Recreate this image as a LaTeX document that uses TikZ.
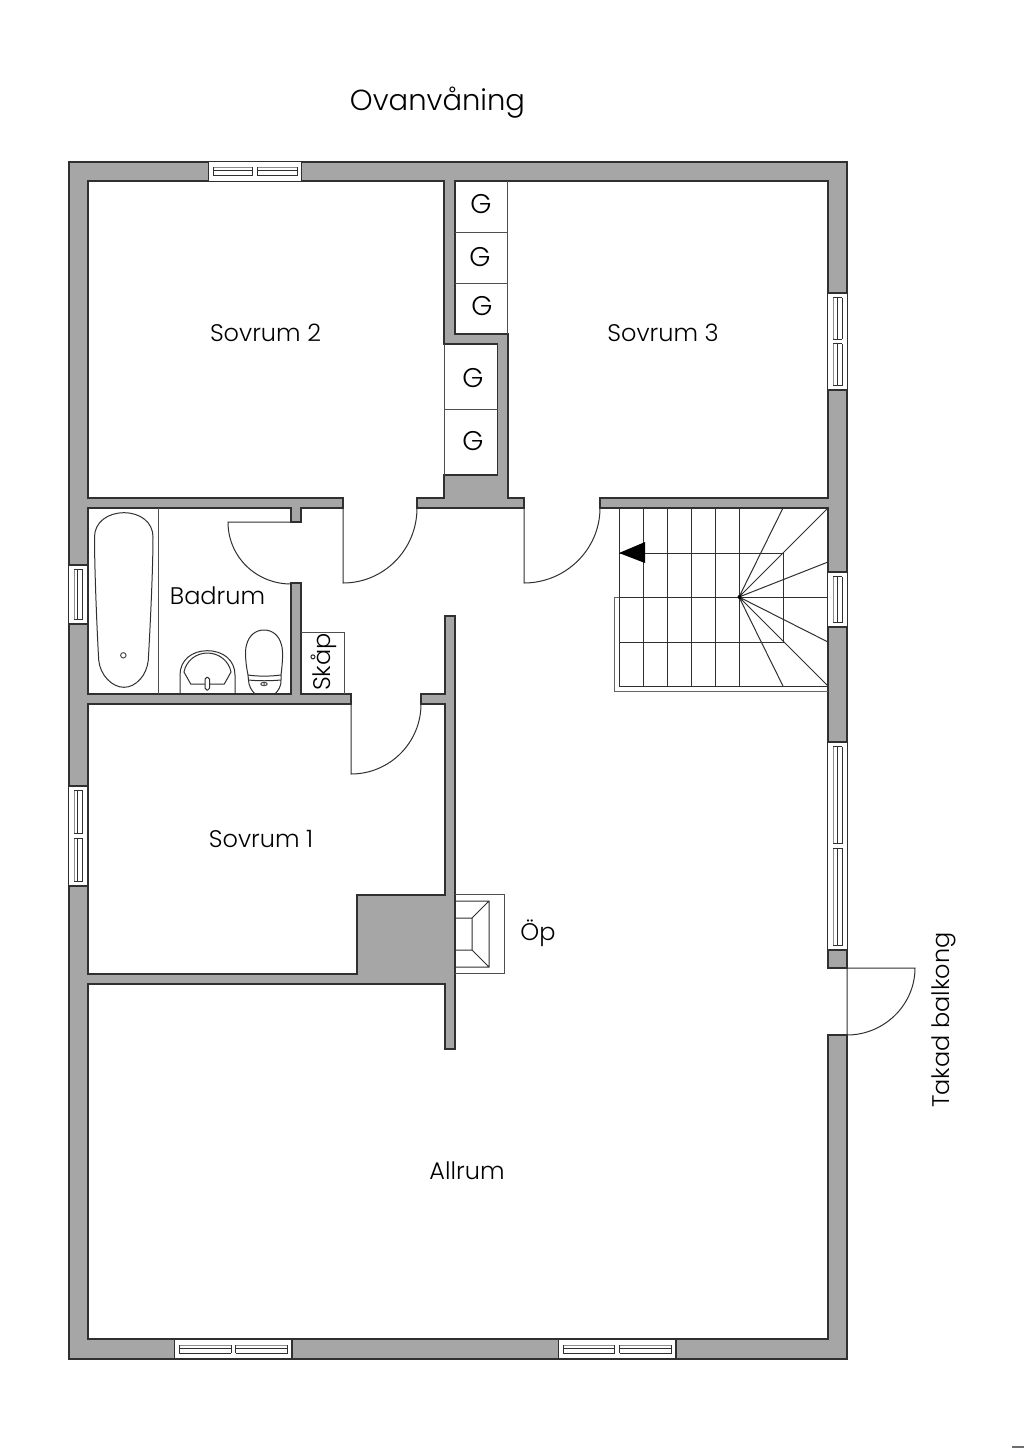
\documentclass[tikz,border=0pt]{standalone}
\usepackage{fontspec}
\setmainfont{Poppins}[UprightFont=* Light]
\definecolor{wallgray}{HTML}{A6A6A6}
\definecolor{ink}{HTML}{303030}
\tikzset{
 wall/.style={fill=wallgray,draw=ink,line width=1.1pt,line join=miter},
 thin line/.style={draw=ink,line width=1pt},
 fine/.style={draw=ink!85,line width=1pt},
 faint/.style={draw=ink!55,line width=.8pt},
 windowframe/.style={fill=white,draw=ink,line width=1.1pt},
 label/.style={inner sep=0pt,text=black,font=\fontsize{24}{28}\selectfont},
 glabel/.style={inner sep=0pt,text=black,font=\fontsize{27}{30}\selectfont},
}
\newcommand{\hwin}[3]{% x1,x2,ytop  (horizontal window, two panes)
 \draw[windowframe] (#1,#3) rectangle (#2,{#3+19.4});
 \draw[faint] ({#1+4.5},{#3+5.6}) -- ({(#1+#2)/2-2.3},{#3+5.6})
   ({(#1+#2)/2+2.3},{#3+5.6}) -- ({#2-4.5},{#3+5.6});
 \draw[thin line] ({#1+4.5},{#3+5.6}) -- ({#1+4.5},{#3+14})
   ({(#1+#2)/2-2.3},{#3+5.6}) -- ({(#1+#2)/2-2.3},{#3+14})
   ({(#1+#2)/2+2.3},{#3+5.6}) -- ({(#1+#2)/2+2.3},{#3+14})
   ({#2-4.5},{#3+5.6}) -- ({#2-4.5},{#3+14})
   ({#1+4.5},{#3+9}) -- ({(#1+#2)/2-2.3},{#3+9})
   ({#1+4.5},{#3+14}) -- ({(#1+#2)/2-2.3},{#3+14})
   ({(#1+#2)/2+2.3},{#3+9}) -- ({#2-4.5},{#3+9})
   ({(#1+#2)/2+2.3},{#3+14}) -- ({#2-4.5},{#3+14});
}
\newcommand{\vwin}[3]{% xleft,y1,y2 (vertical window, two panes)
 \draw[windowframe] (#1,#2) rectangle ({#1+19.4},#3);
 \draw[faint] ({#1+5.4},{#2+4.5}) -- ({#1+5.4},{(#2+#3)/2-2.3})
   ({#1+5.4},{(#2+#3)/2+2.3}) -- ({#1+5.4},{#3-4.5});
 \draw[thin line] ({#1+5.4},{#2+4.5}) -- ({#1+14.3},{#2+4.5})
   ({#1+5.4},{(#2+#3)/2-2.3}) -- ({#1+14.3},{(#2+#3)/2-2.3})
   ({#1+5.4},{(#2+#3)/2+2.3}) -- ({#1+14.3},{(#2+#3)/2+2.3})
   ({#1+5.4},{#3-4.5}) -- ({#1+14.3},{#3-4.5})
   ({#1+9.3},{#2+4.5}) -- ({#1+9.3},{(#2+#3)/2-2.3})
   ({#1+14.3},{#2+4.5}) -- ({#1+14.3},{(#2+#3)/2-2.3})
   ({#1+9.3},{(#2+#3)/2+2.3}) -- ({#1+9.3},{#3-4.5})
   ({#1+14.3},{(#2+#3)/2+2.3}) -- ({#1+14.3},{#3-4.5});
}
\newcommand{\vwinone}[3]{% xleft,y1,y2 (vertical window, one pane)
 \draw[windowframe] (#1,#2) rectangle ({#1+19.4},#3);
 \draw[faint] ({#1+5.4},{#2+4.5}) -- ({#1+5.4},{#3-4.5});
 \draw[thin line] ({#1+5.4},{#2+4.5}) -- ({#1+14.3},{#2+4.5})
   ({#1+5.4},{#3-4.5}) -- ({#1+14.3},{#3-4.5})
   ({#1+9.3},{#2+4.5}) -- ({#1+9.3},{#3-4.5})
   ({#1+14.3},{#2+4.5}) -- ({#1+14.3},{#3-4.5});
}
\begin{document}
\begin{tikzpicture}[x=1pt,y=-1pt]
\useasboundingbox[fill=white] (0,0) rectangle (1024,1448);
% walls: one outline, broken at the balcony door
\draw[wall] (69,162) -- (847,162) -- (847,968) -- (828,968) -- (828,508) -- (600,508) -- (600,498) -- (828,498) -- (828,181) -- (455,181) -- (455,334) -- (508,334) -- (508,498) -- (524,498) -- (524,508) -- (417,508) -- (417,498) -- (444,498) -- (444,475) -- (497.5,475) -- (497.5,344) -- (444,344) -- (444,181) -- (88,181) -- (88,498) -- (343,498) -- (343,508) -- (301,508) -- (301,522) -- (291,522) -- (291,508) -- (88,508) -- (88,694) -- (291,694) -- (291,583) -- (301,583) -- (301,694) -- (351,694) -- (351,704) -- (88,704) -- (88,974) -- (357,974) -- (357,895) -- (445,895) -- (445,704) -- (421,704) -- (421,694) -- (445,694) -- (445,616) -- (455,616) -- (455,1049) -- (445,1049) -- (445,984) -- (88,984) -- (88,1339) -- (828,1339) -- (828,1035) -- (847,1035) -- (847,1359) -- (69,1359) -- cycle;
% closets
\draw[fine] (455,232) -- (507.5,232) (455,283) -- (507.5,283) (507.5,181) -- (507.5,334)
  (444,344) -- (444,475) (444,409.5) -- (497.5,409.5);
% cupboard
\draw[fine] (301,632.7) -- (344.5,632.7) -- (344.5,694);
% windows
\hwin{208.5}{301.7}{161.8}
\hwin{174.7}{292}{1339.4}
\hwin{558.5}{676}{1339.4}
\vwin{827.8}{293}{390}
\vwin{827.8}{742}{950}
\vwin{68.5}{786}{886}
\vwinone{827.8}{572}{627}
\vwinone{68.5}{565}{624}
% doors
\draw[thin line] (343,508) -- (343,583) .. controls (384,583) and (417,549.5) .. (417,508);
\draw[thin line] (524,508) -- (524,583) .. controls (565.5,583) and (600,549.5) .. (600,508);
\draw[thin line] (301,522) -- (228,522) .. controls (228,556.8) and (256.2,584) .. (291,584);
\draw[thin line] (351,704) -- (351,774) .. controls (389.7,774) and (421,742.7) .. (421,704);
\draw[thin line] (847,968) -- (847,1035) (847,968) -- (915,968) .. controls (915,1005) and (884,1035) .. (847,1035);
% bathroom
\draw[fine] (158.7,508) -- (158.7,694);
\draw[thin line] (94.5,537) .. controls (94.5,522) and (108,512.7) .. (124,512.7) .. controls (140,512.7) and (153,522) .. (153,537) .. controls (153,570) and (150,630) .. (148.3,660) .. controls (147,675) and (136,687.3) .. (124,687.3) .. controls (112,687.3) and (100,675) .. (98.7,660) .. controls (97,630) and (94.5,570) .. (94.5,537) -- cycle;
\draw[fine] (123.3,655.3) circle[radius=2.7];
% sink
\draw[thin line] (180,694) -- (180,675) .. controls (180,660) and (192,650.7) .. (207.3,650.7) .. controls (223,650.7) and (235,660) .. (235,675) -- (235,694);
\draw[thin line] (190.7,684) -- (184,672) .. controls (186,661) and (196,653) .. (207.3,653) .. controls (219,653) and (229,661) .. (231,672) -- (224.3,684) -- cycle;
\draw[thin line,fill=white,rounded corners=1.8pt] (205,677.3) rectangle (209.5,690);
% toilet
\draw[thin line] (248,675) .. controls (245,660) and (245,650) .. (246.5,645) .. controls (249,635) and (256,630) .. (264,630) .. controls (272,630) and (279,635) .. (281.5,645) .. controls (283,650) and (283,660) .. (281,675) .. controls (270,676.5) and (258,676.5) .. (248,675) -- cycle;
\draw[thin line] (248,675) -- (248.5,680) .. controls (248.5,686) and (252,691) .. (255,694) -- (275,694) .. controls (278,691) and (281.5,686) .. (281,680) -- (281,675);
\draw[thin line] (248.5,680) .. controls (258,681) and (270,681) .. (281,680);
\draw[fine] (264,684) ellipse[x radius=3.2,y radius=1.7] (264,682.3) -- (264,685.7);
% stairs
\draw[thin line] (619,508) -- (619,686) (643,508) -- (643,686) (667,508) -- (667,686) (691,508) -- (691,686) (715,508) -- (715,686) (739,508) -- (739,686);
\draw[thin line] (619,553) -- (783,553) -- (783,642) -- (619,642) (619,597) -- (828,597) (619,686) -- (828,686);
\draw[thin line] (739,597) -- (783,508) (739,597) -- (828,508) (739,597) -- (828,562) (739,597) -- (828,642) (739,597) -- (828,686) (739,597) -- (783,686);
\fill[black] (739.5,597) circle[radius=2];
\draw[fine,draw=ink!75] (828,691) -- (614,691) -- (614,597) -- (619,597);
\fill[black] (619,553) -- (645,542) -- (645,563) -- cycle;
% fireplace
\draw[fine] (455,894) -- (504,894) -- (504,973) -- (455,973);
\draw[thin line] (455,901) -- (489,901) -- (489,967) -- (455,967) (455,918) -- (472,918) -- (472,950) -- (455,950) (472,918) -- (489,901) (472,950) -- (489,967);
% corner mark
\fill[ink!70] (1012,1446.3) rectangle (1024,1448);
% texts
\node[label,font=\fontsize{29}{32}\selectfont] (title) at (437.5,103) {Ovanvåning};
\node[label] (s2) at (265.5,333) {Sovrum 2};
\node[label] (s3) at (663,333) {Sovrum 3};
\node[label] (s1) at (261,839) {Sovrum 1};
\node[label] (bad) at (217.5,596) {Badrum};
\node[label] (all) at (467,1171) {Allrum};
\node[label] (op) at (538,933) {Öp};
\node[label,rotate=90] (skap) at (324,662) {Skåp};
\node[label,rotate=90] (balk) at (944,1020) {Takad balkong};
\node[glabel] (g1) at (481,204) {G};
\node[glabel] (g2) at (480,257) {G};
\node[glabel] (g3) at (482,306) {G};
\node[glabel] (g4) at (473,378) {G};
\node[glabel] (g5) at (473,441) {G};
\end{tikzpicture}
\end{document}
